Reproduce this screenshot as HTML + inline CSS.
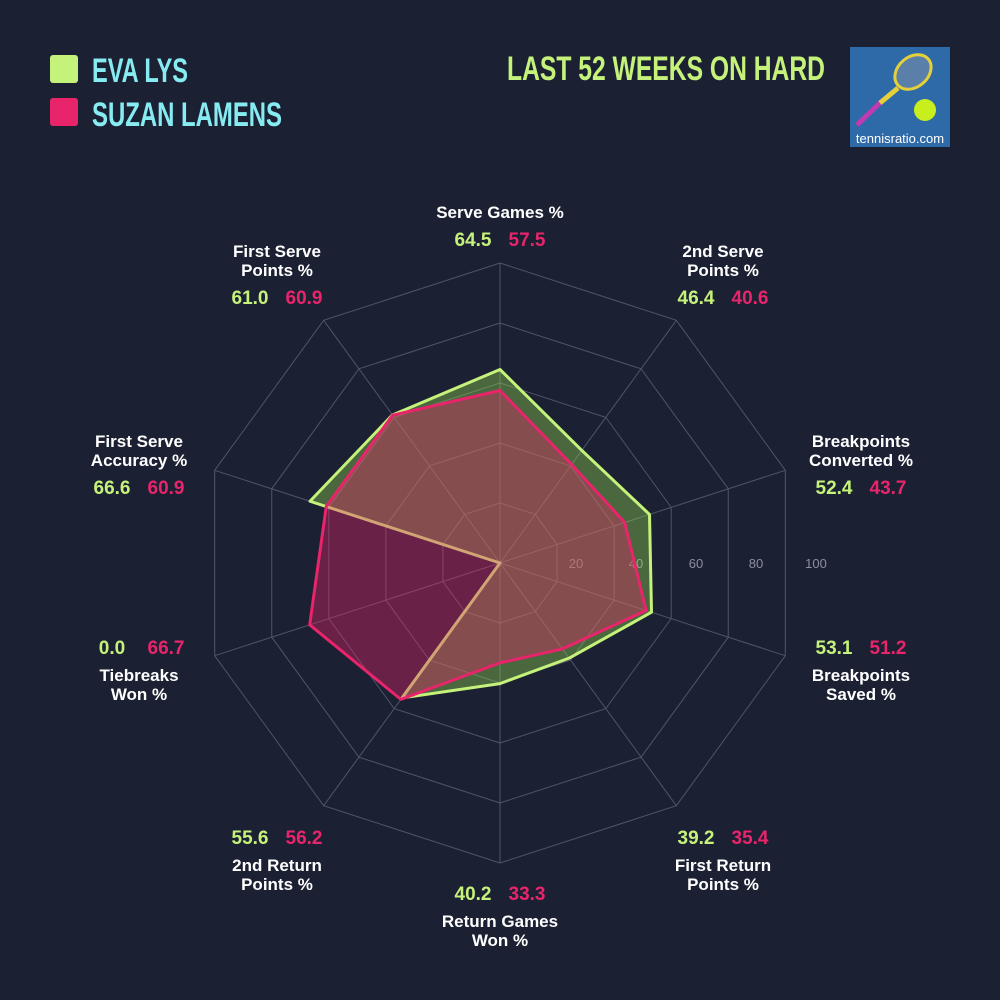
<!DOCTYPE html>
<html><head><meta charset="utf-8"><style>
body{margin:0;background:#1c2033;width:1000px;height:1000px;overflow:hidden;font-family:"Liberation Sans",sans-serif}
svg{display:block}
.h{font-family:"Liberation Sans",sans-serif;font-weight:bold}
</style></head><body>
<svg id="c" width="1000" height="1000">
<rect width="1000" height="1000" fill="#1c2033"/>
<rect x="50" y="55" width="28" height="28" rx="3" fill="#c5f27a"/>
<text x="92" y="82" class="h" font-size="34" fill="#86ecf2" textLength="96" lengthAdjust="spacingAndGlyphs">EVA LYS</text>
<rect x="50" y="98" width="28" height="28" rx="3" fill="#e8246b"/>
<text x="92" y="126" class="h" font-size="34" fill="#86ecf2" textLength="190" lengthAdjust="spacingAndGlyphs">SUZAN LAMENS</text>
<text x="507" y="80" class="h" font-size="34" fill="#c5f27a" textLength="318" lengthAdjust="spacingAndGlyphs">LAST 52 WEEKS ON HARD</text>
<g>
<rect x="850" y="47" width="100" height="100" fill="#2f6aa8"/>
<line x1="857" y1="125" x2="883" y2="100" stroke="#c03ab0" stroke-width="5"/>
<line x1="880" y1="103" x2="898" y2="88" stroke="#e6d03a" stroke-width="5"/>
<ellipse cx="913" cy="72" rx="20" ry="15" transform="rotate(-40 913 72)" fill="#5a7fa8" stroke="#e6d03a" stroke-width="3"/>
<circle cx="925" cy="110" r="11" fill="#c8ee1e"/>
<text x="900" y="143" text-anchor="middle" font-size="13" fill="#fff">tennisratio.com</text>
</g>
<g id="grid"></g><g id="series"></g><g id="labels"></g>
</svg>
<script>
const categories=[["Serve Games %"],["2nd Serve","Points %"],["Breakpoints","Converted %"],["Breakpoints","Saved %"],["First Return","Points %"],["Return Games","Won %"],["2nd Return","Points %"],["Tiebreaks","Won %"],["First Serve","Accuracy %"],["First Serve","Points %"]];
const evaValues=[64.5,46.4,52.4,53.1,39.2,40.2,55.6,0.0,66.6,61.0];
const suzanValues=[57.5,40.6,43.7,51.2,35.4,33.3,56.2,66.7,60.9,60.9];
const tickLabels=[20,40,60,80,100];
const cx=500,cy=563,R=300;
const NS="http://www.w3.org/2000/svg";
function rScale(v){return v/100*R;}
function ang(i){return (-90+36*i)*Math.PI/180;}
function pt(i,v){const r=rScale(v);return [cx+r*Math.cos(ang(i)),cy+r*Math.sin(ang(i))];}
function mk(t,a,p){const e=document.createElementNS(NS,t);for(const k in a)e.setAttribute(k,a[k]);p.appendChild(e);return e;}
const g=document.getElementById('grid');
tickLabels.forEach(t=>{
 const p=categories.map((c,i)=>pt(i,t).join(',')).join(' ');
 const e=mk('polygon',{points:p,fill:'none',stroke:'#4f5568','stroke-width':1},g);
 
 
 const tx=mk('text',{x:cx+rScale(t)+16,y:cy+5,'text-anchor':'middle','font-size':13,fill:'#8a8fa0'},g);
 tx.textContent=t;
 
 
});
categories.forEach((c,i)=>{
 const [x,y]=pt(i,100);
 const e=mk('line',{x1:cx,y1:cy,x2:x,y2:y,stroke:'#4f5568','stroke-width':1},g);
 
 
});
const s=document.getElementById('series');
function poly(vals,fill,stroke,name){
 const p=vals.map((v,i)=>pt(i,v).join(',')).join(' ');
 const e=mk('polygon',{points:p,fill:fill,stroke:stroke,'stroke-width':3,'stroke-linejoin':'round'},s);
 
 
}
poly(evaValues,'rgba(150,220,80,0.38)','#c5f27a','series-eva-lys');
poly(suzanValues,'rgba(232,36,107,0.38)','#e8246b','series-suzan-lamens');
const pos=[[500,218],[723,257],[861,447],[861,654],[723,844],[500,900],[277,844],[139,654],[139,447],[277,257]];
const valsBelow=[true,true,true,false,false,false,false,false,true,true];
const L=document.getElementById('labels');
categories.forEach((c,i)=>{
 const [x,y0]=pos[i];
 let ty,vy;
 if(valsBelow[i]){ty=y0;vy=y0+19*(c.length-1)+28;}else{vy=y0;ty=y0+27;}
 c.forEach((line,k)=>{
  const t=mk('text',{x:x,y:ty+19*k,'text-anchor':'middle','font-size':17,'font-weight':'bold',fill:'#fff'},L);
  t.textContent=line;
  
  
 });
 const a=mk('text',{x:x-27,y:vy,'text-anchor':'middle','font-size':19,'font-weight':'bold',fill:'#c5f27a'},L);
 a.textContent=evaValues[i].toFixed(1);
 
 
 const b=mk('text',{x:x+27,y:vy,'text-anchor':'middle','font-size':19,'font-weight':'bold',fill:'#e8246b'},L);
 b.textContent=suzanValues[i].toFixed(1);
 
 
});
</script>
</body></html>
